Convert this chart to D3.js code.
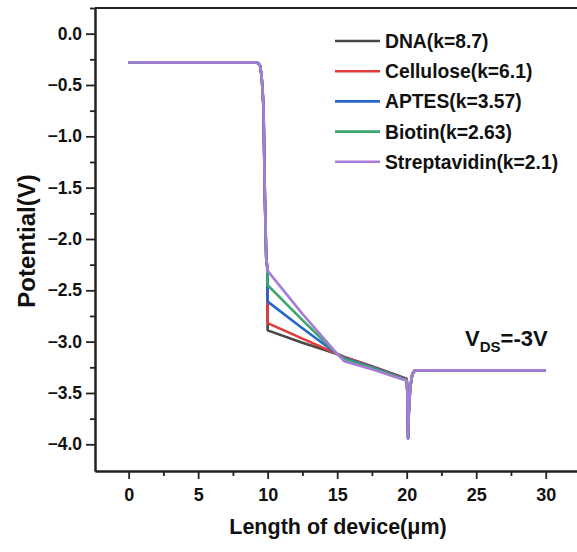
<!DOCTYPE html>
<html>
<head>
<meta charset="utf-8">
<script src="https://cdn.jsdelivr.net/npm/d3@7"></script>
<style>
  body { margin: 0; background: #fff; }
  text { font-family: "Liberation Sans", Arial, sans-serif; font-weight: bold; fill: #111; }
</style>
</head>
<body>
<div id="myChart"></div>
<script>
// data
const xs = [0, 9.0, 9.3, 9.45, 9.55, 9.62, 9.7, 9.8, 9.9, 9.97, 10.0, 12.5, 15.0, 15.5, 17.5, 20.0, 20.05, 20.1, 20.15, 20.25, 20.4, 20.55, 20.8, 30];
const dna = [-0.28, -0.28, -0.285, -0.31, -0.4, -0.52, -0.72, -1.6, -2.2, -2.27, -2.89, -3.01, -3.12, -3.15, -3.24, -3.36, -3.5, -3.94, -3.7, -3.45, -3.32, -3.285, -3.28, -3.28];
const cellulose = [-0.28, -0.28, -0.285, -0.31, -0.4, -0.52, -0.72, -1.6, -2.2, -2.27, -2.82, -2.97, -3.12, -3.15, -3.245, -3.365, -3.5, -3.94, -3.7, -3.45, -3.32, -3.285, -3.28, -3.28];
const aptes = [-0.28, -0.28, -0.285, -0.31, -0.4, -0.52, -0.72, -1.6, -2.2, -2.27, -2.61, -2.87, -3.12, -3.16, -3.25, -3.37, -3.5, -3.94, -3.7, -3.45, -3.32, -3.285, -3.28, -3.28];
const biotin = [-0.28, -0.28, -0.285, -0.31, -0.4, -0.52, -0.72, -1.6, -2.2, -2.27, -2.45, -2.79, -3.12, -3.17, -3.255, -3.375, -3.5, -3.94, -3.7, -3.45, -3.32, -3.285, -3.28, -3.28];
const strept = [-0.28, -0.28, -0.285, -0.31, -0.4, -0.52, -0.72, -1.6, -2.2, -2.27, -2.31, -2.73, -3.12, -3.19, -3.27, -3.38, -3.5, -3.94, -3.7, -3.45, -3.32, -3.285, -3.28, -3.28];

const names = ["DNA(k=8.7)", "Cellulose(k=6.1)", "APTES(k=3.57)", "Biotin(k=2.63)", "Streptavidin(k=2.1)"];
const colors = ["#474747", "#e23b3b", "#2568c9", "#3ba66c", "#a77cd9"];
const seriesValues = [dna, cellulose, aptes, biotin, strept];

const xTicks = [0, 5, 10, 15, 20, 25, 30];
const xMinor = [2.5, 7.5, 12.5, 17.5, 22.5, 27.5];
const yTicks = [0, -0.5, -1, -1.5, -2, -2.5, -3, -3.5, -4];
const yMinor = [0.25, -0.25, -0.75, -1.25, -1.75, -2.25, -2.75, -3.25, -3.75];

const W = 577, H = 552;
const margin = { top: 8, right: 0, bottom: 81, left: 95 },
  width = W - margin.left - margin.right,
  height = H - margin.top - margin.bottom;

const svg = d3
  .select("#myChart")
  .append("svg")
  .attr("width", W)
  .attr("height", H);
const g = svg.append("g")
  .attr("transform", "translate(" + margin.left + "," + margin.top + ")");

const x = d3.scaleLinear().domain([-2.42, 32.25]).range([0, width]);
const y = d3.scaleLinear().domain([0.25, -4.26]).range([0, height]);

// lines
const line = d3.line().x((d) => x(d[0])).y((d) => y(d[1]));
seriesValues.forEach(function (vals, i) {
  g.append("path")
    .datum(xs.map((v, j) => [v, vals[j]]))
    .attr("fill", "none")
    .attr("stroke", colors[i])
    .attr("stroke-width", 2.6)
    .attr("stroke-linejoin", "round")
    .attr("d", line);
});

// axes
const xAxis = g.append("g")
  .attr("transform", "translate(0," + height + ")")
  .call(d3.axisBottom(x).tickValues(xTicks).tickFormat(d3.format("d")).tickSize(8).tickSizeOuter(0));
g.append("g")
  .attr("transform", "translate(0," + height + ")")
  .call(d3.axisBottom(x).tickValues(xMinor).tickFormat("").tickSize(5).tickSizeOuter(0));
const yAxis = g.append("g")
  .call(d3.axisLeft(y).tickValues(yTicks).tickFormat(d3.format(".1f")).tickSize(9).tickSizeOuter(0));
g.append("g")
  .call(d3.axisLeft(y).tickValues(yMinor).tickFormat("").tickSize(5).tickSizeOuter(0));

g.selectAll(".domain").attr("stroke", "#222").attr("stroke-width", 2);
g.selectAll(".tick line").attr("stroke", "#222").attr("stroke-width", 1.8);
xAxis.selectAll("text").style("font-size", "18px").attr("dy", "1.05em");
yAxis.selectAll("text").style("font-size", "17.5px").attr("x", -13);

// top frame line
g.append("line")
  .attr("x1", 0).attr("x2", width)
  .attr("y1", 0).attr("y2", 0)
  .attr("stroke", "#222").attr("stroke-width", 2);

// axis labels
svg.append("text")
  .attr("x", 338).attr("y", 534)
  .style("text-anchor", "middle")
  .style("font-size", "21.5px")
  .text("Length of device(μm)");
svg.append("text")
  .attr("transform", "translate(35,241) rotate(-90)")
  .style("text-anchor", "middle")
  .style("font-size", "24px")
  .text("Potential(V)");

// V_DS annotation
const vds = svg.append("text").attr("x", 465).attr("y", 346).style("font-size", "22px");
vds.append("tspan").text("V");
vds.append("tspan").attr("dy", 6).style("font-size", "15px").text("DS");
vds.append("tspan").attr("dy", -6).text("=-3V");

// legend
const legend = svg.append("g");
names.forEach(function (n, i) {
  const ly = 41 + i * 30.2;
  legend.append("line")
    .attr("x1", 335).attr("x2", 380)
    .attr("y1", ly).attr("y2", ly)
    .attr("stroke", colors[i]).attr("stroke-width", 2.6);
  legend.append("text")
    .attr("x", 385).attr("y", ly)
    .attr("dy", "0.36em")
    .style("font-size", "19.3px")
    .text(n);
});
</script>
</body>
</html>
